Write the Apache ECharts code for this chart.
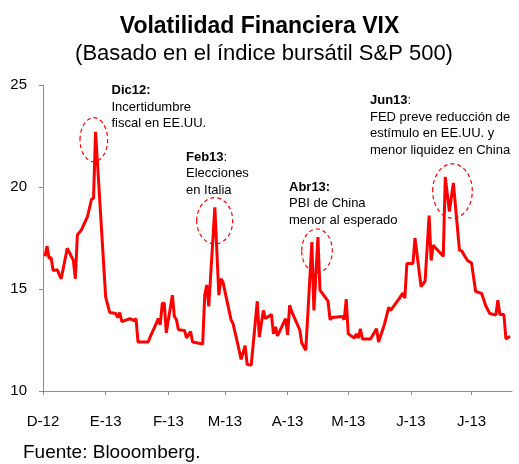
<!DOCTYPE html>
<html>
<head>
<meta charset="utf-8">
<script src="https://cdn.jsdelivr.net/npm/echarts@6/dist/echarts.min.js"></script>
<style>
html,body{margin:0;padding:0;background:#fff;}
#chart{width:519px;height:464px;}
</style>
</head>
<body>
<div id="chart"></div>
<script>
// ---- data ----
var dates = ['2012-12-02','2012-12-03','2012-12-04','2012-12-05','2012-12-06','2012-12-08','2012-12-10','2012-12-13','2012-12-16','2012-12-17','2012-12-18','2012-12-20','2012-12-23','2012-12-25','2012-12-26','2012-12-27',
'2013-01-01','2013-01-03','2013-01-06','2013-01-07','2013-01-08','2013-01-09','2013-01-13','2013-01-15','2013-01-16','2013-01-17','2013-01-22','2013-01-23','2013-01-26','2013-01-27','2013-01-28','2013-01-29','2013-01-30','2013-01-31',
'2013-02-03','2013-02-04','2013-02-05','2013-02-06','2013-02-09','2013-02-10','2013-02-12','2013-02-13','2013-02-18','2013-02-19','2013-02-20','2013-02-21','2013-02-24','2013-02-26','2013-02-27','2013-02-28',
'2013-03-04','2013-03-05','2013-03-07','2013-03-09','2013-03-11','2013-03-12','2013-03-14','2013-03-17','2013-03-18','2013-03-20','2013-03-21','2013-03-24','2013-03-25','2013-03-26','2013-03-27','2013-03-31',
'2013-04-01','2013-04-02','2013-04-03','2013-04-07','2013-04-08','2013-04-10','2013-04-13','2013-04-14','2013-04-16','2013-04-17','2013-04-21','2013-04-22','2013-04-23','2013-04-28','2013-04-29','2013-04-30',
'2013-05-01','2013-05-04','2013-05-05','2013-05-06','2013-05-07','2013-05-08','2013-05-12','2013-05-15','2013-05-16','2013-05-19','2013-05-21','2013-05-22','2013-05-26','2013-05-28','2013-05-29','2013-05-30',
'2013-06-02','2013-06-03','2013-06-06','2013-06-08','2013-06-10','2013-06-11','2013-06-12','2013-06-17','2013-06-18','2013-06-20','2013-06-22','2013-06-25','2013-06-26','2013-06-29',
'2013-07-01','2013-07-03','2013-07-06','2013-07-08','2013-07-10','2013-07-13','2013-07-14','2013-07-15','2013-07-17','2013-07-18','2013-07-20'];
var vix = [16.6,17.1,16.5,16.55,15.9,15.95,15.5,17.0,16.4,15.5,17.65,17.9,18.55,19.4,19.45,22.7,
14.6,13.85,13.8,13.6,13.85,13.4,13.55,13.45,13.55,12.4,12.4,12.65,13.3,13.55,13.25,14.3,14.3,12.85,
14.7,13.65,13.5,13.0,12.97,12.6,12.92,12.4,12.3,14.7,15.2,14.15,19.0,14.7,15.5,15.35,
13.5,13.3,12.45,11.55,12.22,11.3,11.27,14.4,12.65,13.95,13.55,13.75,12.8,13.15,12.7,13.55,
12.75,14.2,13.9,13.0,12.35,12.0,17.3,13.95,17.55,14.95,14.4,13.5,13.6,13.65,13.5,14.5,
12.8,12.6,12.8,12.6,13.05,12.55,12.55,13.05,12.4,13.3,14.1,13.95,14.5,14.8,14.55,16.25,
16.25,17.5,15.12,15.38,18.6,16.4,17.15,16.6,20.5,18.8,20.2,16.9,16.88,16.4,
16.27,14.88,14.78,14.18,13.8,13.72,14.45,13.75,13.75,12.55,12.68];
var monthLabels = ['D-12','E-13','F-13','M-13','A-13','M-13','J-13','J-13'];
var axisStart = '2012-12-01', axisEnd = '2013-07-21';
var yTicks = [10, 15, 20, 25];

// calendar-day categories for the axis
var categories = [];
(function(){
  var d = new Date(axisStart + 'T00:00:00Z'), e = new Date(axisEnd + 'T00:00:00Z');
  while (d <= e) { categories.push(d.toISOString().slice(0,10)); d = new Date(d.getTime() + 86400000); }
})();
function isMonthStart(v){ return v.slice(8,10) === '01'; }
function monthIndex(v){ var y=+v.slice(0,4), m=+v.slice(5,7); return (y-2012)*12 + m - 12; }

var FONT = 'Liberation Sans, Arial, sans-serif';
var chart = echarts.init(document.getElementById('chart'), null, {renderer:'canvas'});

function note(x, top, head, colonBold, lines){
  var t = '{b|' + head + (colonBold ? ':' : '') + '}' + (colonBold ? '' : '{r|:}') + '\n' + lines.join('\n');
  return {
    type:'text', left:x, top:top, z:10,
    style:{
      text:t, fill:'#000', font:'13px ' + FONT, lineHeight:16.5,
      rich:{ b:{fontWeight:'bold', fontSize:13, fontFamily:FONT, lineHeight:16.5, fill:'#000'},
             r:{fontSize:13, fontFamily:FONT, lineHeight:16.5, fill:'#000'} }
    }
  };
}
function ring(cx, cy, rx, ry){
  return { type:'ellipse', z:10, shape:{cx:cx, cy:cy, rx:rx, ry:ry},
    style:{ fill:null, stroke:'#ff0000', lineWidth:1.2, lineDash:[4,3] } };
}

chart.setOption({
  animation:false,
  backgroundColor:'#ffffff',
  grid:{ left:43, right:7, top:85, bottom:73, containLabel:false },
  xAxis:{
    type:'category', data:categories, boundaryGap:false,
    axisLine:{ lineStyle:{ color:'#8c8c8c', width:1 } },
    axisTick:{ show:true, length:4, lineStyle:{ color:'#8c8c8c' },
      interval:function(i, v){ return isMonthStart(v); } },
    axisLabel:{ interval:function(i, v){ return isMonthStart(v); },
      formatter:function(v){ return isMonthStart(v) ? monthLabels[monthIndex(v)] : ''; },
      color:'#000', fontSize:15, fontFamily:FONT, margin:23 },
    splitLine:{ show:false }
  },
  yAxis:{
    type:'value', min:yTicks[0], max:yTicks[yTicks.length-1], interval:5,
    axisLine:{ show:true, lineStyle:{ color:'#8c8c8c', width:1 } },
    axisTick:{ show:true, length:4, lineStyle:{ color:'#8c8c8c' } },
    axisLabel:{ color:'#000', fontSize:15, fontFamily:FONT, margin:16 },
    splitLine:{ show:false }
  },
  series:[{
    type:'line', showSymbol:false, symbol:'none',
    data: dates.map(function(d, i){ return [d, vix[i]]; }),
    lineStyle:{ color:'#ff0000', width:3 },
    itemStyle:{ color:'#ff0000' }
  }],
  graphic:[
    { type:'text', x:259.5, y:15.5, style:{ text:'Volatilidad Financiera VIX', font:'bold 23px ' + FONT, fill:'#000', align:'center', verticalAlign:'top' } },
    { type:'text', x:264, y:43, style:{ text:'(Basado en el índice bursátil S&P 500)', font:'22px ' + FONT, fill:'#000', align:'center', verticalAlign:'top' } },
    { type:'text', x:23, y:443, style:{ text:'Fuente: Blooomberg.', font:'19px ' + FONT, fill:'#000', verticalAlign:'top' } },
    note(111.5, 82.5, 'Dic12', true, ['Incertidumbre', 'fiscal en EE.UU.']),
    note(186, 149, 'Feb13', false, ['Elecciones', 'en Italia']),
    note(289, 179, 'Abr13', true, ['PBI de China', 'menor al esperado']),
    note(370, 92.5, 'Jun13', false, ['FED preve reducción de', 'estímulo en EE.UU. y', 'menor liquidez en China']),
    ring(93.8, 139.7, 13.8, 22),
    ring(214.7, 220.8, 18, 23.2),
    ring(317, 250.7, 15.3, 21.7),
    ring(452.5, 191, 19.8, 27.2)
  ]
});
</script>
</body>
</html>
